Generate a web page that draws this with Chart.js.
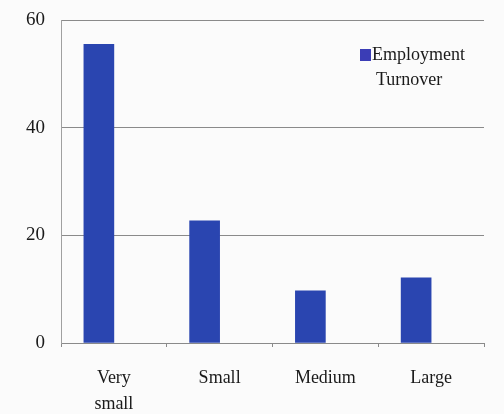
<!DOCTYPE html>
<html>
<head>
<meta charset="utf-8">
<script src="https://cdn.jsdelivr.net/npm/chart.js@4"></script>
<style>
  body { margin: 0; background: #fbfbfb; }
</style>
</head>
<body>
<canvas id="turnoverChart" width="504" height="414"></canvas>
<script>
// Data
const categories = [['Very', 'small'], 'Small', 'Medium', 'Large'];
const turnover = [55.5, 22.7, 9.7, 12.1];
const emptySlot = [null, null, null, null]; // keeps bars shifted left in each category
const yTicks = [0, 20, 40, 60];
const legendLines = ['Employment', 'Turnover'];

const serif = '"Liberation Serif", "Times New Roman", serif';

// Legend drawn inside the plot, top right, wrapped on two lines
const insideLegend = {
    id: 'insideLegend',
    afterDraw(chart) {
        const c = chart.ctx;
        const area = chart.chartArea;
        const x = area.right - 124;
        const y = area.top + 29;
        c.save();
        c.fillStyle = '#3b3db6';
        c.fillRect(x, y, 11, 12);
        c.fillStyle = '#1a1a1a';
        c.font = '18px ' + serif;
        c.textBaseline = 'alphabetic';
        c.fillText(legendLines[0], x + 12, y + 11);
        c.fillText(legendLines[1], x + 16, y + 36);
        c.restore();
    }
};

const ctx = document.getElementById('turnoverChart').getContext('2d');

new Chart(ctx, {
    type: 'bar',
    data: {
        labels: categories,
        datasets: [
            {
                label: 'Employment Turnover',
                data: turnover,
                backgroundColor: '#2a45b0',
                barThickness: 30
            },
            {
                label: '',
                data: emptySlot,
                backgroundColor: 'transparent',
                barThickness: 30
            }
        ]
    },
    options: {
        responsive: false,
        animation: false,
        layout: { padding: { top: 20, right: 20, left: 0, bottom: 0 } },
        plugins: {
            legend: { display: false },
            tooltip: { enabled: false }
        },
        scales: {
            x: {
                afterFit: (s) => { s.height = 71; },
                grid: {
                    offset: true,
                    drawOnChartArea: false,
                    tickLength: 4,
                    color: '#8a8a8a'
                },
                border: { color: '#8a8a8a' },
                ticks: {
                    color: '#1a1a1a',
                    padding: 18,
                    maxRotation: 0,
                    font: { family: serif, size: 18, lineHeight: 1.45 }
                }
            },
            y: {
                min: 0,
                max: 60,
                afterFit: (s) => { s.width = 61; s.paddingTop = 0; s.paddingBottom = 0; },
                afterBuildTicks: (s) => { s.ticks = yTicks.map(v => ({ value: v })); },
                grid: { drawTicks: false, color: '#8a8a8a' },
                border: { color: '#a0a0a0' },
                ticks: {
                    color: '#1a1a1a',
                    padding: 16,
                    font: { family: serif, size: 19 }
                }
            }
        }
    },
    plugins: [insideLegend]
});
</script>
</body>
</html>
